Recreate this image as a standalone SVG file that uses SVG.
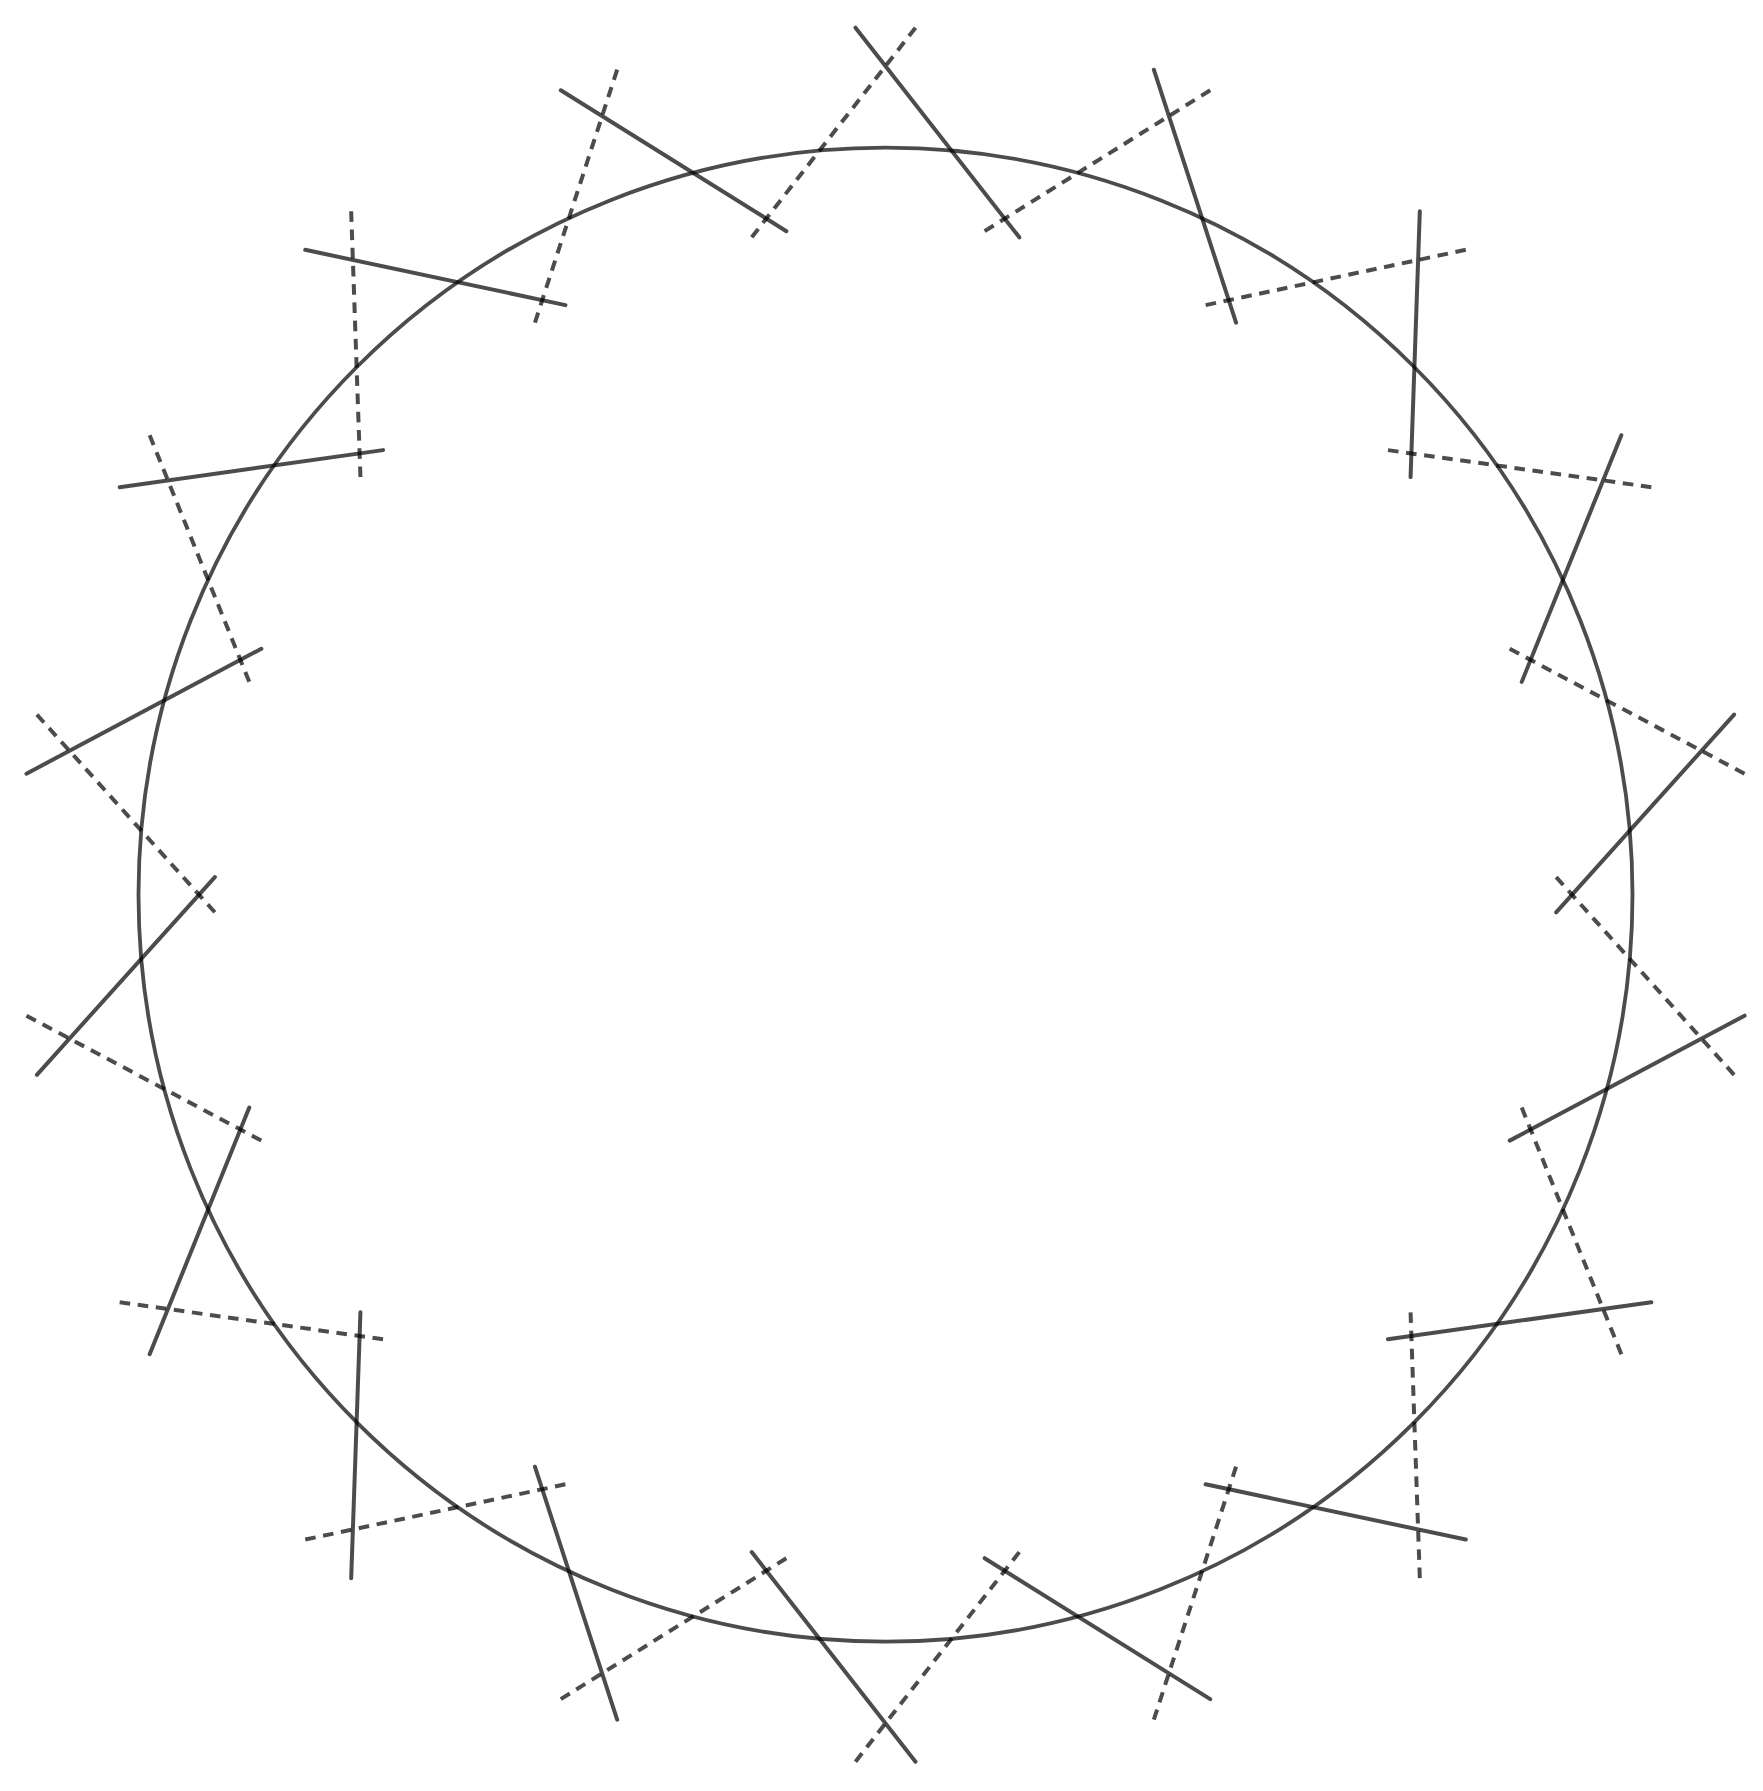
<svg xmlns="http://www.w3.org/2000/svg" xmlns:xlink="http://www.w3.org/1999/xlink" width="1763" height="1791" viewBox="0 0 1763 1791">
  <style>
    .ring { fill: none; stroke: #000; stroke-opacity: 0.7; stroke-width: 3.8; }
    .solid { stroke: #000; stroke-opacity: 0.7; stroke-width: 4; stroke-linecap: round; }
    .dash { stroke: #000; stroke-opacity: 0.7; stroke-width: 4; stroke-dasharray: 10.6 7.64; }
  </style>
  <defs>
    <g id="pair">
      <line class="solid" x1="-30" y1="-867" x2="133.8" y2="-657.4"/>
      <line class="dash" x1="30" y1="-867" x2="-133.8" y2="-657.4"/>
    </g>
  </defs>
  <rect width="1763" height="1791" fill="#fff"/>
  <circle class="ring" cx="885.5" cy="894.7" r="747"/>
  <g id="connectors" transform="translate(885.5 894.7)">
    <use xlink:href="#pair" href="#pair" transform="rotate(0)"/>
    <use xlink:href="#pair" href="#pair" transform="rotate(20)"/>
    <use xlink:href="#pair" href="#pair" transform="rotate(40)"/>
    <use xlink:href="#pair" href="#pair" transform="rotate(60)"/>
    <use xlink:href="#pair" href="#pair" transform="rotate(80)"/>
    <use xlink:href="#pair" href="#pair" transform="rotate(100)"/>
    <use xlink:href="#pair" href="#pair" transform="rotate(120)"/>
    <use xlink:href="#pair" href="#pair" transform="rotate(140)"/>
    <use xlink:href="#pair" href="#pair" transform="rotate(160)"/>
    <use xlink:href="#pair" href="#pair" transform="rotate(180)"/>
    <use xlink:href="#pair" href="#pair" transform="rotate(200)"/>
    <use xlink:href="#pair" href="#pair" transform="rotate(220)"/>
    <use xlink:href="#pair" href="#pair" transform="rotate(240)"/>
    <use xlink:href="#pair" href="#pair" transform="rotate(260)"/>
    <use xlink:href="#pair" href="#pair" transform="rotate(280)"/>
    <use xlink:href="#pair" href="#pair" transform="rotate(300)"/>
    <use xlink:href="#pair" href="#pair" transform="rotate(320)"/>
    <use xlink:href="#pair" href="#pair" transform="rotate(340)"/>
  </g>
</svg>
